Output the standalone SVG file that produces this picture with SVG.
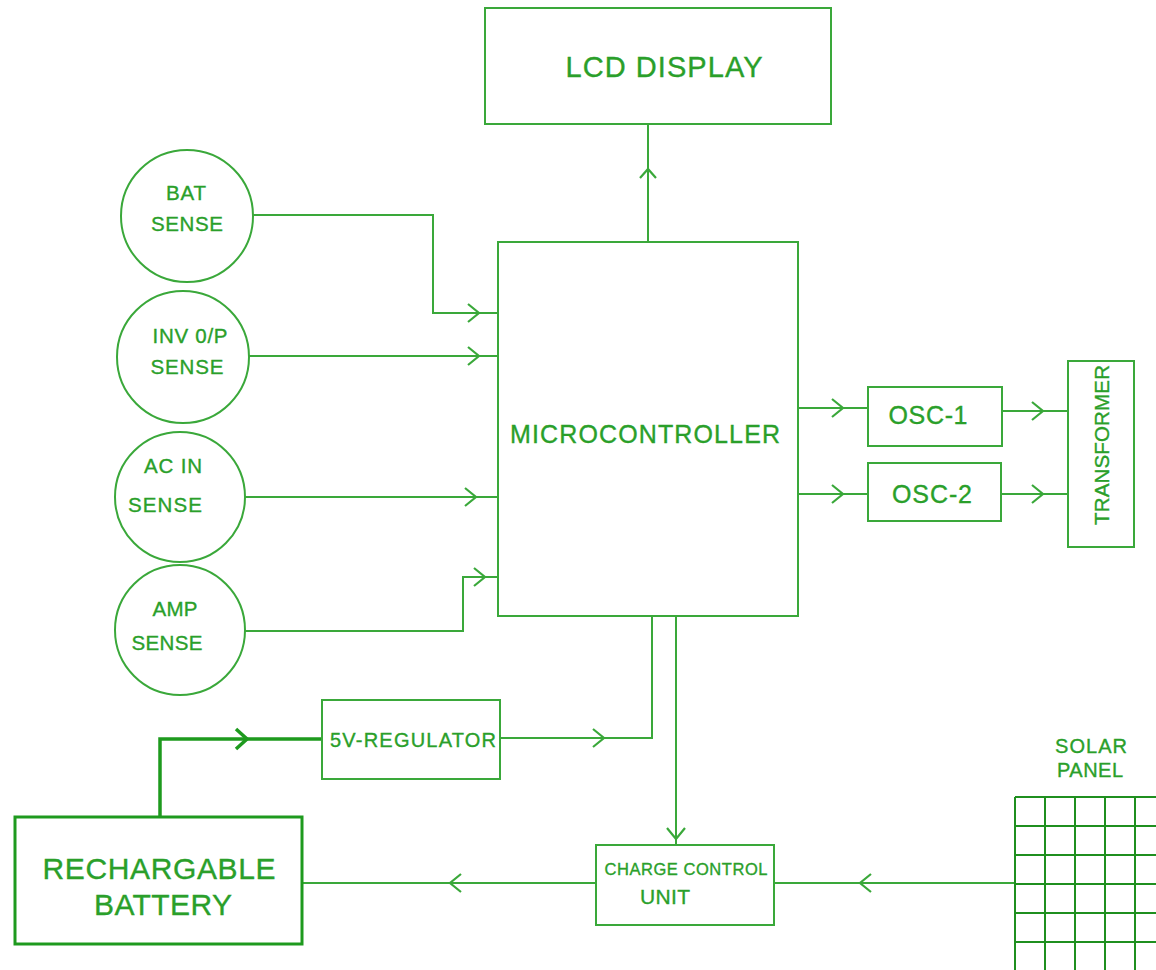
<svg xmlns="http://www.w3.org/2000/svg" width="1156" height="970" viewBox="0 0 1156 970">
<style>
.box{fill:#fff;stroke:#3aa83a;stroke-width:2}
.thick{fill:#fff;stroke:#1e9a1e;stroke-width:3}
.ln{fill:none;stroke:#3aa83a;stroke-width:2}
.tln{fill:none;stroke:#1e9a1e;stroke-width:3.5}
.chev{fill:none;stroke:#3aa83a;stroke-width:2.2}
.grid{fill:none;stroke:#1f8f1f;stroke-width:2}
text{font-family:"Liberation Sans",Arial,sans-serif;fill:#2a9f2a;stroke:#2a9f2a;stroke-width:0.35}
.s{font-size:20.5px}
</style>
<rect width="1156" height="970" fill="#fff"/>
<g id="connectors">
<path class="ln" d="M648,242 V124"/>
<path class="chev" d="M640,178 L648,169 L656,178"/>
<path class="ln" d="M253,215 H433 V313 H498"/>
<path class="chev" d="M468,304 L479,313 L468,322"/>
<path class="ln" d="M249,356 H498"/>
<path class="chev" d="M468,347 L479,356 L468,365"/>
<path class="ln" d="M245,497 H498"/>
<path class="chev" d="M465,488 L476,497 L465,506"/>
<path class="ln" d="M245,631 H463 V577 H498"/>
<path class="chev" d="M474,568 L485,577 L474,586"/>
<path class="ln" d="M798,408 H868"/>
<path class="chev" d="M832,399 L843,408 L832,417"/>
<path class="ln" d="M798,494 H868"/>
<path class="chev" d="M832,485 L843,494 L832,503"/>
<path class="ln" d="M1002,411 H1068"/>
<path class="chev" d="M1032,402 L1043,411 L1032,420"/>
<path class="ln" d="M1001,494 H1068"/>
<path class="chev" d="M1032,485 L1043,494 L1032,503"/>
<path class="ln" d="M500,738 H652 V616"/>
<path class="chev" d="M593,729 L604,738 L593,747"/>
<path class="ln" d="M676,616 V845"/>
<path class="chev" d="M667,828 L676,839 L685,828"/>
<path class="ln" d="M596,883 H302"/>
<path class="chev" d="M461,874 L450,883 L461,892"/>
<path class="ln" d="M1015,883 H774"/>
<path class="chev" d="M871,874 L860,883 L871,892"/>
<path class="tln" d="M160,817 V739 H322"/>
<path class="chev" style="stroke:#1e9a1e;stroke-width:3.5" d="M236,729 L247,739 L236,749"/>
</g>
<g id="lcd">
<rect class="box" x="485" y="8" width="346" height="116"/>
<text x="664" y="77" font-size="29" text-anchor="middle" textLength="197">LCD DISPLAY</text>
</g>
<g id="mcu">
<rect class="box" x="498" y="242" width="300" height="374"/>
<text x="645" y="443" font-size="25" text-anchor="middle" textLength="270">MICROCONTROLLER</text>
</g>
<g id="bat-sense">
<circle class="box" cx="187" cy="216" r="66"/>
<text class="s" x="186" y="200" text-anchor="middle" textLength="40">BAT</text>
<text class="s" x="187" y="231" text-anchor="middle" textLength="72">SENSE</text>
</g>
<g id="inv-sense">
<circle class="box" cx="183" cy="357" r="66"/>
<text class="s" x="190" y="343" text-anchor="middle" textLength="75">INV 0/P</text>
<text class="s" x="187" y="374" text-anchor="middle" textLength="73">SENSE</text>
</g>
<g id="ac-sense">
<circle class="box" cx="180" cy="497" r="65"/>
<text class="s" x="173" y="473" text-anchor="middle" textLength="58">AC IN</text>
<text class="s" x="165" y="512" text-anchor="middle" textLength="74">SENSE</text>
</g>
<g id="amp-sense">
<circle class="box" cx="180" cy="630" r="65"/>
<text class="s" x="175" y="616" text-anchor="middle" textLength="45">AMP</text>
<text class="s" x="167" y="650" text-anchor="middle" textLength="71">SENSE</text>
</g>
<g id="osc1">
<rect class="box" x="868" y="387" width="134" height="59"/>
<text x="928" y="424" font-size="25" text-anchor="middle" textLength="79">OSC-1</text>
</g>
<g id="osc2">
<rect class="box" x="868" y="463" width="133" height="58"/>
<text x="932" y="503" font-size="25" text-anchor="middle" textLength="80">OSC-2</text>
</g>
<g id="transformer">
<rect class="box" x="1068" y="361" width="66" height="186"/>
<text x="0" y="0" font-size="20.5" text-anchor="middle" textLength="160" transform="translate(1109,445) rotate(-90)">TRANSFORMER</text>
</g>
<g id="regulator">
<rect class="box" x="322" y="700" width="178" height="79"/>
<text x="413" y="747" font-size="20" text-anchor="middle" textLength="166">5V-REGULATOR</text>
</g>
<g id="charge-control">
<rect class="box" x="596" y="845" width="178" height="80"/>
<text x="686" y="875" font-size="16.5" text-anchor="middle" textLength="163">CHARGE CONTROL</text>
<text x="665" y="904" font-size="21" text-anchor="middle" textLength="50">UNIT</text>
</g>
<g id="battery">
<rect class="thick" x="15" y="817" width="287" height="127"/>
<text x="159" y="879" font-size="30" text-anchor="middle" textLength="233">RECHARGABLE</text>
<text x="163" y="915" font-size="30" text-anchor="middle" textLength="138">BATTERY</text>
</g>
<g id="solar-panel">
<text x="1091" y="753" font-size="20" text-anchor="middle" textLength="72">SOLAR</text>
<text x="1090" y="777" font-size="20" text-anchor="middle" textLength="66">PANEL</text>
<path class="grid" d="M1015,797 V970 M1045,797 V970 M1075,797 V970 M1105,797 V970 M1135,797 V970 M1015,797 H1156 M1015,826 H1156 M1015,855 H1156 M1015,884 H1156 M1015,913 H1156 M1015,942 H1156"/>
</g>
</svg>
